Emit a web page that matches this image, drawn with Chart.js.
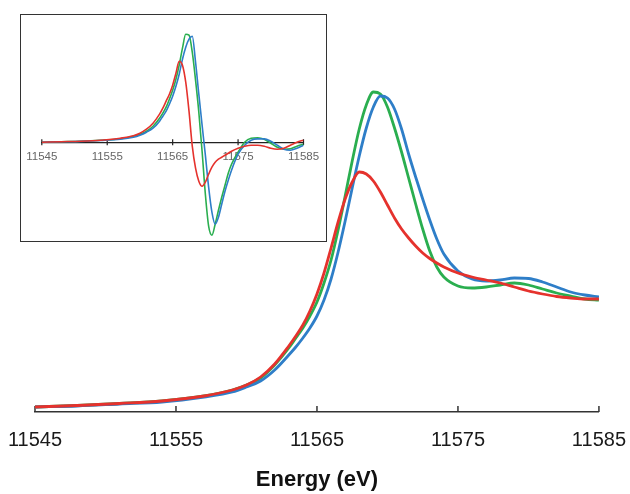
<!DOCTYPE html>
<html>
<head>
<meta charset="utf-8">
<script src="https://cdn.jsdelivr.net/npm/chart.js@4.4.1/dist/chart.umd.min.js"></script>
<style>
    html, body { margin: 0; padding: 0; background: #fff; }
    #wrap { position: relative; width: 630px; height: 494px; }
    #wrap canvas { display: block; }
    #inset {
        position: absolute; left: 20px; top: 14px;
        width: 305px; height: 226px;
        border: 1.5px solid #333; background: #fff;
    }
</style>
</head>
<body>
<div id="wrap">
    <canvas id="main-chart" width="630" height="494"></canvas>
    <div id="inset"><canvas id="deriv-chart" width="305" height="226"></canvas></div>
</div>
<script>
// Energy grid (eV), shared by all curves
const energies = [11545, 11548, 11551, 11554, 11557, 11559, 11560, 11561, 11562, 11563,
    11563.5, 11564, 11564.5, 11565, 11565.5, 11566, 11566.5, 11567, 11567.5, 11568,
    11568.5, 11569, 11569.5, 11570, 11570.5, 11571, 11571.5, 11572, 11572.5, 11573,
    11573.5, 11574, 11575, 11576, 11577, 11578, 11579, 11580, 11581, 11582,
    11583, 11584, 11585];

const xTicks = [11545, 11555, 11565, 11575, 11585];

// Normalized absorption (main plot)
const absRed = [0.05, 0.065, 0.085, 0.11, 0.16, 0.22, 0.27, 0.35, 0.48, 0.66,
    0.76, 0.87, 1.01, 1.18, 1.39, 1.64, 1.90, 2.13, 2.30, 2.40,
    2.38, 2.31, 2.20, 2.07, 1.94, 1.83, 1.74, 1.66, 1.59, 1.535,
    1.49, 1.45, 1.39, 1.35, 1.32, 1.29, 1.25, 1.21, 1.18, 1.155,
    1.14, 1.13, 1.13];
const absGreen = [0.05, 0.065, 0.085, 0.11, 0.16, 0.22, 0.27, 0.34, 0.47, 0.64,
    0.74, 0.84, 0.96, 1.10, 1.29, 1.52, 1.82, 2.16, 2.51, 2.83,
    3.07, 3.20, 3.18, 3.05, 2.84, 2.60, 2.34, 2.08, 1.83, 1.61,
    1.45, 1.35, 1.26, 1.24, 1.25, 1.27, 1.29, 1.27, 1.23, 1.19,
    1.16, 1.13, 1.12];
const absBlue = [0.05, 0.06, 0.08, 0.10, 0.15, 0.20, 0.25, 0.31, 0.42, 0.57,
    0.65, 0.74, 0.84, 0.96, 1.12, 1.33, 1.60, 1.91, 2.24, 2.56,
    2.84, 3.05, 3.16, 3.14, 3.03, 2.83, 2.58, 2.35, 2.13, 1.92,
    1.73, 1.58, 1.41, 1.33, 1.31, 1.32, 1.34, 1.335, 1.30, 1.25,
    1.20, 1.17, 1.15];

// First derivative (inset)
const derRed = [0, 0.005, 0.01, 0.02, 0.04, 0.065, 0.09, 0.13, 0.19, 0.28,
    0.34, 0.41, 0.48, 0.57, 0.69, 0.81, 0.77, 0.60, 0.31, -0.04,
    -0.26, -0.39, -0.44, -0.40, -0.32, -0.25, -0.20, -0.17, -0.15, -0.13,
    -0.11, -0.09, -0.06, -0.04, -0.03, -0.03, -0.04, -0.06, -0.07, -0.06,
    -0.03, 0.00, 0.02];
const derGreen = [0, 0.005, 0.01, 0.02, 0.035, 0.06, 0.08, 0.11, 0.16, 0.24,
    0.29, 0.35, 0.43, 0.52, 0.63, 0.77, 0.94, 1.08, 1.07, 0.90,
    0.62, 0.30, -0.09, -0.52, -0.84, -0.93, -0.82, -0.68, -0.55, -0.43,
    -0.31, -0.22, -0.10, 0.00, 0.04, 0.045, 0.03, -0.01, -0.05, -0.07,
    -0.065, -0.04, -0.02];
const derBlue = [0, 0.004, 0.008, 0.017, 0.03, 0.05, 0.07, 0.10, 0.14, 0.21,
    0.26, 0.31, 0.38, 0.46, 0.56, 0.68, 0.83, 0.95, 1.03, 1.06,
    0.80, 0.48, 0.17, -0.13, -0.45, -0.70, -0.82, -0.75, -0.62, -0.49,
    -0.38, -0.28, -0.12, -0.03, 0.02, 0.033, 0.033, 0.01, -0.03, -0.07,
    -0.08, -0.06, -0.03];

const RED = '#e5322d';
const GREEN = '#2aae4f';
const BLUE = '#2e7ec8';
const FONT = "'Liberation Sans', Arial, Helvetica, sans-serif";

// Short tick marks crossing the x axis line (drawn through the x scale)
const tickMarks = {
    id: 'tickMarks',
    beforeDatasetsDraw(chart, args, opts) {
        const x = chart.scales.x;
        const yPix = chart.scales.y.getPixelForValue(0);
        const ctx = chart.ctx;
        ctx.save();
        ctx.strokeStyle = opts.color;
        ctx.lineWidth = opts.width;
        x.ticks.forEach(t => {
            const px = x.getPixelForValue(t.value);
            ctx.beginPath();
            ctx.moveTo(px, yPix - opts.up);
            ctx.lineTo(px, yPix + opts.down);
            ctx.stroke();
        });
        ctx.restore();
    }
};

function series(values, color) {
    return {
        data: energies.map((e, i) => ({ x: e, y: values[i] })),
        borderColor: color,
        backgroundColor: color,
        fill: false
    };
}

function xScale(extra) {
    return Object.assign({
        type: 'linear',
        min: xTicks[0],
        max: xTicks[xTicks.length - 1],
        afterBuildTicks: scale => { scale.ticks = xTicks.map(v => ({ value: v })); }
    }, extra);
}

new Chart(document.getElementById('main-chart'), {
    type: 'line',
    data: { datasets: [series(absRed, RED), series(absBlue, BLUE), series(absGreen, GREEN)] },
    plugins: [tickMarks],
    options: {
        responsive: false,
        animation: false,
        layout: { padding: { left: 35, right: 30, top: 62, bottom: 0 } },
        elements: {
            point: { radius: 0 },
            line: { borderWidth: 2.8, cubicInterpolationMode: 'monotone' }
        },
        plugins: {
            legend: { display: false },
            tooltip: { enabled: false },
            tickMarks: { up: 6, down: 0, color: '#333', width: 1.5 }
        },
        scales: {
            x: xScale({
                ticks: {
                    autoSkip: false, maxRotation: 0, padding: 4,
                    callback: v => String(v),
                    font: { size: 20, family: FONT }, color: '#1a1a1a'
                },
                grid: { drawOnChartArea: false, drawTicks: true, tickLength: 12, color: 'rgba(0,0,0,0)' },
                border: { display: true, color: '#333', width: 1.5 },
                title: {
                    display: true, text: 'Energy (eV)', color: '#111',
                    font: { size: 22, weight: 'bold', family: FONT },
                    padding: { top: 10.6, bottom: 1 }
                }
            }),
            y: { display: false, min: 0, max: 3.5 }
        }
    }
});

new Chart(document.getElementById('deriv-chart'), {
    type: 'line',
    data: { datasets: [series(derRed, RED), series(derBlue, BLUE), series(derGreen, GREEN)] },
    plugins: [tickMarks],
    options: {
        responsive: false,
        animation: false,
        layout: { padding: { left: 20.8, right: 22.5, top: 0, bottom: 0 } },
        elements: {
            point: { radius: 0 },
            line: { borderWidth: 1.6, cubicInterpolationMode: 'monotone' }
        },
        plugins: {
            legend: { display: false },
            tooltip: { enabled: false },
            tickMarks: { up: 3, down: 3, color: '#222', width: 1.2 }
        },
        scales: {
            x: xScale({
                position: { y: 0 },
                ticks: {
                    autoSkip: false, maxRotation: 0, padding: 4,
                    callback: v => String(v),
                    font: { size: 11.5, family: FONT }, color: '#666'
                },
                grid: { drawOnChartArea: false, drawTicks: true, tickLength: 4, color: 'rgba(0,0,0,0)' },
                border: { display: true, color: '#222', width: 1.3 }
            }),
            y: { display: false, min: -0.988, max: 1.272 }
        }
    }
});
</script>
</body>
</html>
